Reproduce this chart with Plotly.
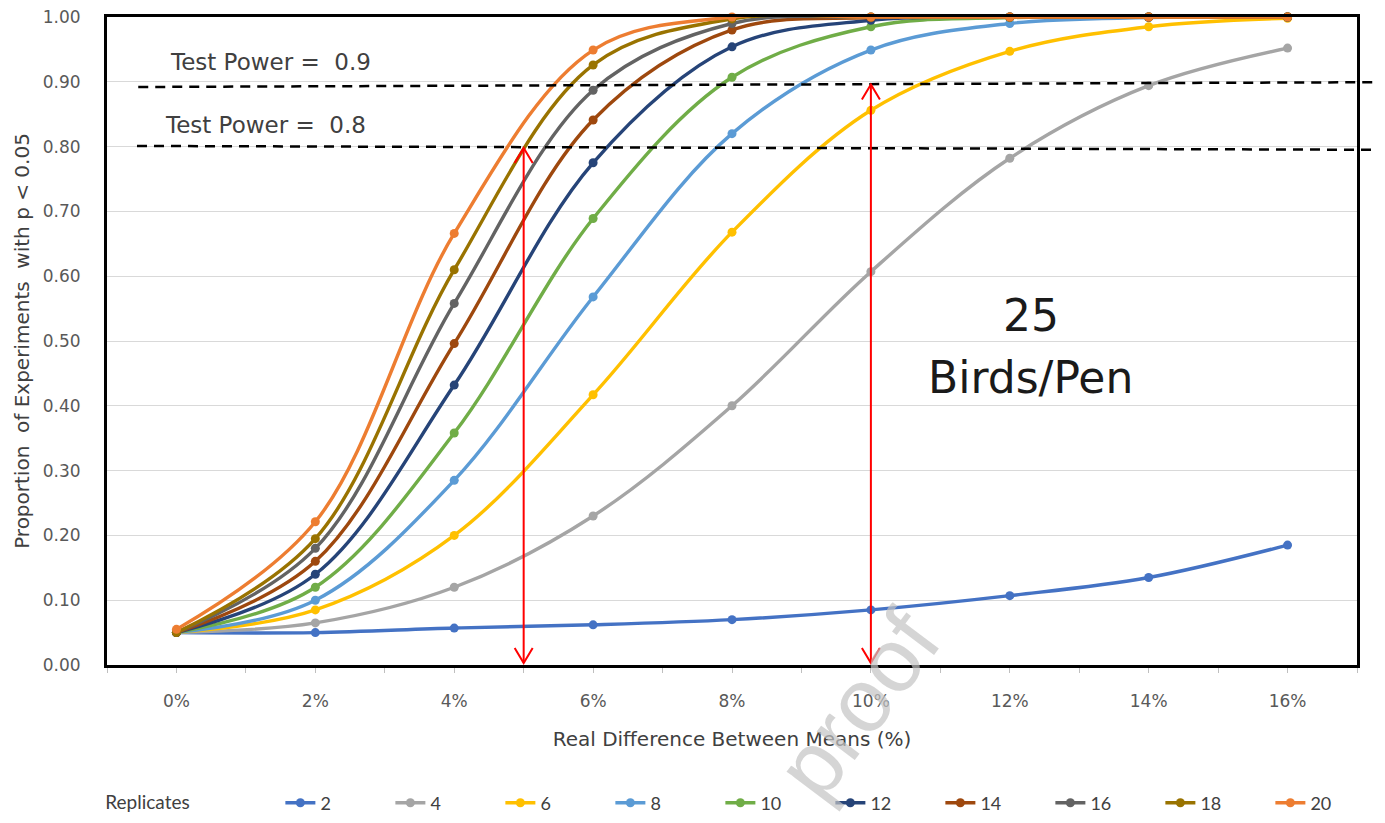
import plotly.graph_objects as go

# ---------------- data ----------------
diff_pct = [0, 2, 4, 6, 8, 10, 12, 14, 16]
replicates = ["2", "4", "6", "8", "10", "12", "14", "16", "18", "20"]
rep2 = [0.050, 0.050, 0.057, 0.062, 0.070, 0.085, 0.107, 0.135, 0.185]
rep4 = [0.050, 0.065, 0.120, 0.230, 0.400, 0.607, 0.782, 0.894, 0.952]
rep6 = [0.050, 0.085, 0.200, 0.417, 0.668, 0.856, 0.947, 0.985, 0.998]
rep8 = [0.050, 0.100, 0.285, 0.568, 0.820, 0.949, 0.990, 0.999, 1.000]
rep10 = [0.050, 0.120, 0.358, 0.689, 0.907, 0.985, 0.999, 1.000, 1.000]
rep12 = [0.050, 0.140, 0.432, 0.775, 0.954, 0.995, 1.000, 1.000, 1.000]
rep14 = [0.050, 0.160, 0.496, 0.841, 0.980, 0.999, 1.000, 1.000, 1.000]
rep16 = [0.050, 0.180, 0.558, 0.887, 0.990, 1.000, 1.000, 1.000, 1.000]
rep18 = [0.050, 0.195, 0.610, 0.926, 0.997, 1.000, 1.000, 1.000, 1.000]
rep20 = [0.055, 0.221, 0.666, 0.949, 1.000, 1.000, 1.000, 1.000, 1.000]
series = [rep2, rep4, rep6, rep8, rep10, rep12, rep14, rep16, rep18, rep20]
colors = ["#4472C4", "#A5A5A5", "#FFC000", "#5B9BD5", "#70AD47",
          "#264478", "#9E480E", "#636363", "#997300", "#ED7D31"]

power_levels = [0.9, 0.8]
arrow_diffs = [5, 10]
arrow_tops = [0.798, 0.896]
x_ticks = [0, 2, 4, 6, 8, 10, 12, 14, 16]
x_tick_text = ["0%", "2%", "4%", "6%", "8%", "10%", "12%", "14%", "16%"]

FONT = "DejaVu Sans"
LEG_FONT = "Lato"
GREY = "#595959"
DARK = "#404040"

fig = go.Figure()
for name, vals, col in zip(replicates, series, colors):
    fig.add_trace(go.Scatter(
        x=diff_pct, y=vals, name=name, mode="lines+markers",
        line=dict(color=col, width=3.4, shape="spline", smoothing=1.0),
        marker=dict(color=col, size=9, symbol="circle"),
        cliponaxis=False,
    ))

# dashed test-power lines (hand drawn, extend past the frame)
fig.add_shape(type="line", xref="paper", yref="y", x0=0.025, x1=1.03,
              y0=0.892, y1=0.8995, line=dict(color="black", width=2.5, dash="10px,7px"))
fig.add_shape(type="line", xref="paper", yref="y", x0=0.024, x1=1.03,
              y0=0.801, y1=0.795, line=dict(color="black", width=2.5, dash="10px,7px"))

fig.add_annotation(x=0.049, y=0.93, xref="paper", yref="y", xanchor="left", yanchor="middle",
                   text="Test Power =  0.9", showarrow=False,
                   font=dict(family=FONT, size=23, color=DARK))
fig.add_annotation(x=0.045, y=0.833, xref="paper", yref="y", xanchor="left", yanchor="middle",
                   text="Test Power =  0.8", showarrow=False,
                   font=dict(family=FONT, size=23, color=DARK))

# red double-headed arrows
for xv, top in zip(arrow_diffs, arrow_tops):
    fig.add_shape(type="line", xref="x", yref="y", x0=xv, x1=xv, y0=0.003, y1=top,
                  line=dict(color="#FF0000", width=2))
    fig.add_shape(type="path", xref="x", yref="y", xsizemode="pixel", ysizemode="pixel",
                  xanchor=xv, yanchor=top, path="M -9,-15 L 0,0 L 9,-15",
                  line=dict(color="#FF0000", width=2))
    fig.add_shape(type="path", xref="x", yref="y", xsizemode="pixel", ysizemode="pixel",
                  xanchor=xv, yanchor=0.003, path="M -9,15 L 0,0 L 9,15",
                  line=dict(color="#FF0000", width=2))

fig.add_annotation(x=12.3, y=0.54, xref="x", yref="y", text="25", showarrow=False,
                   xanchor="center", yanchor="middle",
                   font=dict(family=FONT, size=44, color="#1a1a1a"))
fig.add_annotation(x=12.3, y=0.443, xref="x", yref="y", text="Birds/Pen", showarrow=False,
                   xanchor="center", yanchor="middle",
                   font=dict(family=FONT, size=44, color="#1a1a1a"))

# watermark
fig.add_annotation(x=0.601, y=-0.06, xref="paper", yref="paper", text="proof",
                   showarrow=False, textangle=-53, xanchor="center", yanchor="middle",
                   font=dict(family="Liberation Sans", size=90, color="rgba(195,195,195,0.7)"))

NB = "\u00a0"
# the page body has an 8px margin: the figure is sized so that the plot frame
# lands at x 107..1357, y 17..665 of the 1385x823 window
fig.update_layout(
    width=1377, height=815,
    margin=dict(l=99, r=28, t=9, b=158, autoexpand=False),
    paper_bgcolor="white", plot_bgcolor="white",
    font=dict(family=FONT, color=GREY),
    showlegend=True,
    legend=dict(orientation="h", x=-0.003, y=-0.213, xanchor="left", yanchor="middle",
                entrywidth=65, entrywidthmode="pixels",
                title=dict(text="Replicates" + NB * 17, side="left",
                           font=dict(family=LEG_FONT, size=19, color=DARK)),
                font=dict(family=LEG_FONT, size=18, color=DARK), traceorder="normal"),
    xaxis=dict(range=[-1, 17], tickvals=x_ticks, ticktext=x_tick_text,
               ticks="outside", ticklen=5, tickcolor="#BFBFBF", tickwidth=1,
               minor=dict(dtick=1, tick0=0, ticks="outside", ticklen=5, tickcolor="#BFBFBF"),
               ticklabelstandoff=14, automargin=False, ticklabeloverflow="allow",
               showgrid=False, zeroline=False,
               showline=True, linecolor="black", linewidth=3, mirror=True,
               tickfont=dict(family=FONT, size=17, color=GREY),
               title=dict(text="Real Difference Between Means (%)", standoff=22,
                          font=dict(family=FONT, size=20, color=DARK))),
    yaxis=dict(range=[0, 1], dtick=0.1, tickformat=".2f", ticks="",
               ticklabelstandoff=20, automargin=False, ticklabeloverflow="allow",
               showgrid=True, gridcolor="#D9D9D9", gridwidth=1, zeroline=False,
               showline=True, linecolor="black", linewidth=3, mirror=True,
               tickfont=dict(family=FONT, size=17, color=GREY),
               title=dict(text="Proportion  of Experiments  with p < 0.05", standoff=8,
                          font=dict(family=FONT, size=20, color=DARK))),
)

fig.write_html("out.html")
